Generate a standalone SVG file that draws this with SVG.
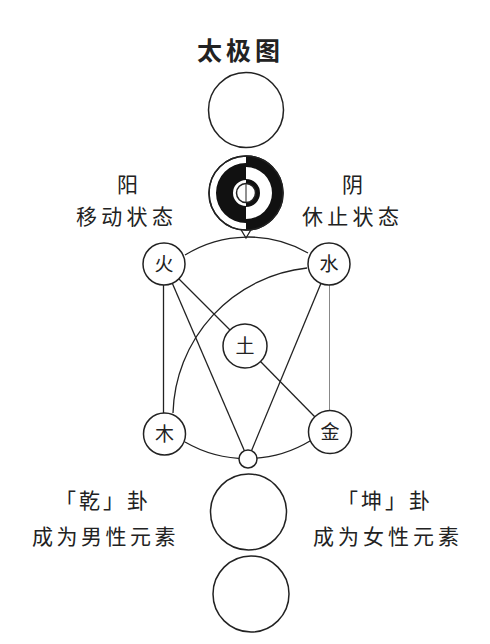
<svg xmlns="http://www.w3.org/2000/svg" width="490" height="644" viewBox="0 0 490 644">
<style>
.c{fill:#fff;stroke:#222;stroke-width:1.5}
.ln{fill:none;stroke:#222;stroke-width:1.3}
.lt{fill:none;stroke:#888;stroke-width:1}
.t{font-family:"Noto Sans CJK SC","Noto Sans CJK JP",sans-serif;fill:#222}
.n{font-size:19px;text-anchor:middle}
.lb{font-size:21px}
</style>
<rect width="490" height="644" fill="#fff"/>
<text class="t" x="197" y="60" style="font-size:25px;font-weight:700;letter-spacing:4px">太极图</text>

<g id="connectors">
<path class="ln" d="M185,255 A120,120 0 0 1 308,253"/>
<path class="ln" d="M185,442 A123,123 0 0 0 310,441"/>
<path class="ln" d="M307,268 A150,150 0 0 0 173,413"/>
<line class="ln" x1="163.5" y1="285" x2="163.5" y2="413"/>
<line class="lt" x1="329.5" y1="285" x2="329.5" y2="411"/>
<line class="ln" x1="179" y1="279" x2="230" y2="330"/>
<line class="ln" x1="260" y1="361" x2="315" y2="417"/>
<line class="ln" x1="172.3" y1="283.3" x2="244.4" y2="450.7"/>
<line class="ln" x1="320.9" y1="283.4" x2="251.5" y2="450.7"/>
<polyline class="ln" points="240,228 246,238 252,228"/>
</g>

<g id="wuji"><circle class="c" cx="246" cy="110" r="37.5"/></g>

<g id="taiji">
<circle class="c" cx="246" cy="193" r="37"/>
<path fill="#111" d="M246,156 A37,37 0 0 1 246,230 Z"/>
<path fill="#fff" d="M246,167 A26,26 0 0 1 246,219 L246,207 A14,14 0 0 0 246,179 Z"/>
<path fill="#111" d="M246,163 A30,30 0 0 0 246,223 L246,206 A13,13 0 0 1 246,180 Z"/>
<circle fill="none" stroke="#222" stroke-width="1.5" cx="246" cy="193" r="37"/>
<circle class="c" cx="246" cy="193" r="9.5" stroke-width="1.2"/>
<line x1="246" y1="183.5" x2="246" y2="202.5" stroke="#222" stroke-width="1"/>
</g>

<g id="yang">
<text class="t lb" x="117" y="192">阳</text>
<text class="t lb" x="76" y="224" style="letter-spacing:4.3px">移动状态</text>
</g>
<g id="yin">
<text class="t lb" x="342" y="192">阴</text>
<text class="t lb" x="302" y="224" style="letter-spacing:4.3px">休止状态</text>
</g>

<g id="fire"><circle class="c" cx="164" cy="264" r="21"/><text class="t n" x="164" y="271">火</text></g>
<g id="water"><circle class="c" cx="329" cy="264" r="21"/><text class="t n" x="329" y="271">水</text></g>
<g id="earth"><circle class="c" cx="245" cy="346" r="22"/><text class="t n" x="245" y="353">土</text></g>
<g id="wood"><circle class="c" cx="164.5" cy="434" r="21"/><text class="t n" x="164.5" y="441">木</text></g>
<g id="metal"><circle class="c" cx="330" cy="432" r="21.5"/><text class="t n" x="330" y="439">金</text></g>
<g id="junction"><circle class="c" cx="248" cy="459" r="9"/></g>

<g id="qian">
<text class="t lb" x="55" y="508" style="letter-spacing:3px">「乾」卦</text>
<text class="t lb" x="32" y="544" style="letter-spacing:3.5px">成为男性元素</text>
</g>
<g id="kun">
<text class="t lb" x="337" y="508" style="letter-spacing:3px">「坤」卦</text>
<text class="t lb" x="313" y="544" style="letter-spacing:4px">成为女性元素</text>
</g>

<g id="male"><circle class="c" cx="248.5" cy="512" r="38"/></g>
<g id="female"><circle class="c" cx="251" cy="594" r="38"/></g>
</svg>
